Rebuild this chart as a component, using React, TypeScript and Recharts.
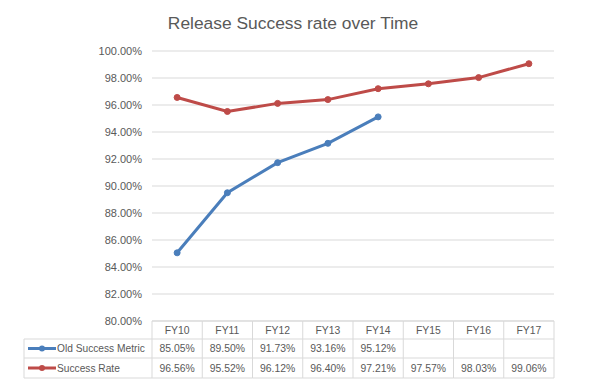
import { LineChart, Line, XAxis, YAxis, CartesianGrid } from 'recharts';

const categories = ['FY10', 'FY11', 'FY12', 'FY13', 'FY14', 'FY15', 'FY16', 'FY17'];
const oldSuccessMetric: (number | null)[] = [85.05, 89.5, 91.73, 93.16, 95.12, null, null, null];
const successRate = [96.56, 95.52, 96.12, 96.4, 97.21, 97.57, 98.03, 99.06];
const yTicks = [80, 82, 84, 86, 88, 90, 92, 94, 96, 98, 100];

const series = [
  { key: 'old', name: 'Old Success Metric', color: '#4A7EBB', values: oldSuccessMetric },
  { key: 'rate', name: 'Success Rate', color: '#BE4B48', values: successRate },
];

const data = categories.map((name, i) => ({
  name,
  old: oldSuccessMetric[i],
  rate: successRate[i],
}));

const W = 592;
const H = 386;
const PLOT_LEFT = 152;
const PLOT_RIGHT = 554;
const PLOT_TOP = 51;
const PLOT_BOTTOM = 321;
const COL_W = (PLOT_RIGHT - PLOT_LEFT) / categories.length;
const ROWS = [321, 339, 358, 378];
const LEGEND_LEFT = 24;
const BORDER = '#D9D9D9';
const TEXT = '#595959';
const FONT = '"Liberation Sans", Arial, sans-serif';

const fmt = (v: number | null | undefined) => (v == null ? '' : `${v.toFixed(2)}%`);

function TableTick(props: any) {
  const { x, payload } = props;
  const i = payload?.index ?? props.index ?? 0;
  const left = x - COL_W / 2;
  const right = x + COL_W / 2;
  const mid = (a: number, b: number) => (a + b) / 2;
  return (
    <g fontFamily={FONT} fontSize={10.4} fill={TEXT}>
      {ROWS.map((ry) => (
        <line key={ry} x1={left} x2={right} y1={ry} y2={ry} stroke={BORDER} />
      ))}
      <line x1={left} x2={left} y1={ROWS[0]} y2={ROWS[3]} stroke={BORDER} />
      {i === categories.length - 1 && (
        <line x1={right} x2={right} y1={ROWS[0]} y2={ROWS[3]} stroke={BORDER} />
      )}
      <text x={x} y={mid(ROWS[0], ROWS[1])} textAnchor="middle" dominantBaseline="central">
        {payload.value}
      </text>
      {series.map((s, si) => (
        <text
          key={s.key}
          x={x}
          y={mid(ROWS[si + 1], ROWS[si + 2])}
          textAnchor="middle"
          dominantBaseline="central"
        >
          {fmt(s.values[i])}
        </text>
      ))}
      {i === 0 && (
        <g>
          {ROWS.slice(1).map((ry) => (
            <line key={ry} x1={LEGEND_LEFT} x2={left} y1={ry} y2={ry} stroke={BORDER} />
          ))}
          <line x1={LEGEND_LEFT} x2={LEGEND_LEFT} y1={ROWS[1]} y2={ROWS[3]} stroke={BORDER} />
          {series.map((s, si) => {
            const cy = mid(ROWS[si + 1], ROWS[si + 2]);
            return (
              <g key={s.key}>
                <line x1={28} x2={56} y1={cy} y2={cy} stroke={s.color} strokeWidth={3} />
                <circle cx={42} cy={cy} r={3} fill={s.color} />
                <text x={57} y={cy} fontSize={10.2} dominantBaseline="central">
                  {s.name}
                </text>
              </g>
            );
          })}
        </g>
      )}
    </g>
  );
}

export default function App() {
  return (
    <div style={{ position: 'absolute', left: 0, top: 0, width: W, height: H, background: '#fff' }}>
      <div
        style={{
          position: 'absolute',
          left: 0,
          top: 13,
          width: 586,
          textAlign: 'center',
          fontFamily: FONT,
          fontSize: 17.4,
          color: TEXT,
        }}
      >
        Release Success rate over Time
      </div>
      <LineChart
        width={W}
        height={H}
        data={data}
        margin={{ top: PLOT_TOP, right: W - PLOT_RIGHT, bottom: H - PLOT_BOTTOM - 57, left: 0 }}
      >
        <CartesianGrid vertical={false} stroke={BORDER} />
        <XAxis
          dataKey="name"
          scale="band"
          axisLine={false}
          tickLine={false}
          interval={0}
          height={57}
          tick={<TableTick />}
        />
        <YAxis
          width={PLOT_LEFT}
          domain={[80, 100]}
          ticks={yTicks}
          axisLine={false}
          tickLine={false}
          tickSize={0}
          tickMargin={10}
          tickFormatter={(v: number) => `${v.toFixed(2)}%`}
          tick={{ fill: TEXT, fontSize: 11, fontFamily: FONT }}
        />
        {series.map((s) => (
          <Line
            key={s.key}
            type="linear"
            dataKey={s.key}
            name={s.name}
            stroke={s.color}
            strokeWidth={3}
            dot={{ r: 3, fill: s.color, stroke: s.color, strokeWidth: 1 }}
            connectNulls={false}
            isAnimationActive={false}
          />
        ))}
      </LineChart>
    </div>
  );
}
